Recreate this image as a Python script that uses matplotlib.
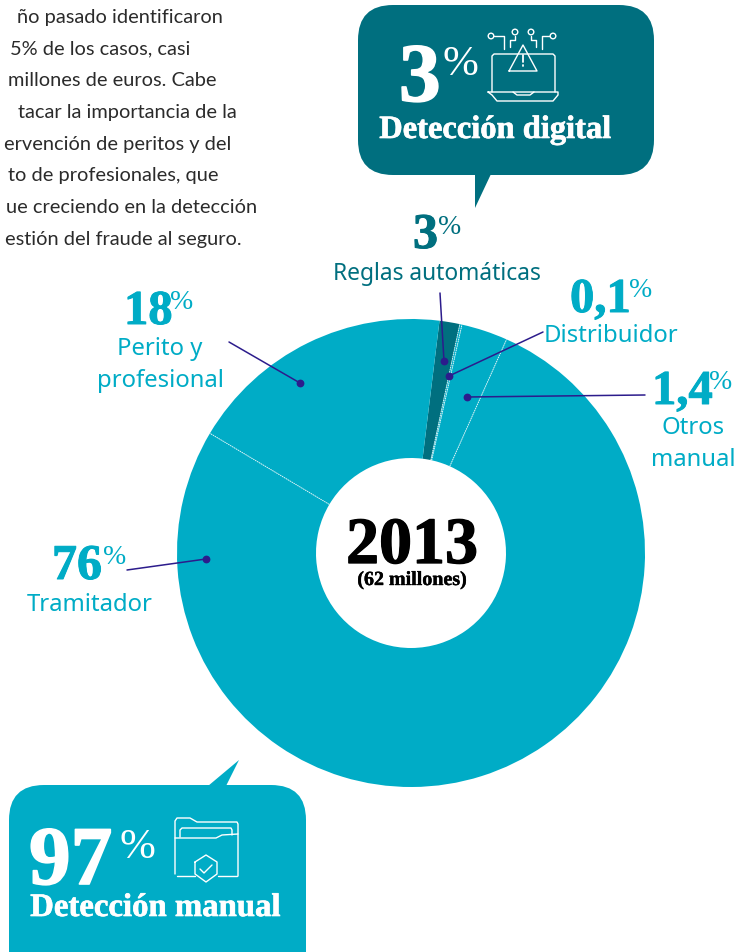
import matplotlib
matplotlib.use("Agg")
import matplotlib.pyplot as plt
import matplotlib.patheffects as pe
from matplotlib.patches import FancyBboxPatch, Polygon, Circle
import numpy as np

# wedge shares as drawn, clockwise from the dark slice
slice_names = ["Reglas automáticas", "Distribuidor", "Otros manual", "Tramitador", "Perito y profesional"]
slice_shares = [1.4, 0.15, 3.2, 76.85, 18.4]

body_lines = ["ño pasado identificaron", "5% de los casos, casi", "millones de euros. Cabe",
              "tacar la importancia de la", "ervención de peritos y del", "to de profesionales, que",
              "ue creciendo en la detección", "estión del fraude al seguro."]
body_ends = [223, 190, 216, 237, 231, 218, 257, 242]

TEAL = "#00ACC6"
DARK = "#006F7F"
NAVY = "#2C1C8C"
SERIF = "Liberation Serif"
SANS = "Noto Sans"

fig = plt.figure(figsize=(7.37, 9.53), dpi=100)
ax = fig.add_axes([0, 0, 1, 1])

# donut, y axis is flipped so counterclock comes out clockwise
cx, cy, r_out, r_in = 411, 554, 234, 95
wedges, _ = ax.pie(slice_shares, colors=[DARK, TEAL, TEAL, TEAL, TEAL], startangle=-83, counterclock=True,
                   radius=r_out, center=(cx, cy), frame=True, wedgeprops=dict(width=r_out - r_in, linewidth=0))
ax.set_xlim(0, 737)
ax.set_ylim(953, 0)
ax.set_aspect("equal")
ax.axis("off")

# dotted white separators between slices
angles = -83 + np.cumsum([0] + slice_shares) * 3.6
for a in angles[1:-1]:
    t = np.deg2rad(a)
    ax.plot([cx + r_in * np.cos(t), cx + r_out * np.cos(t)], [cy + r_in * np.sin(t), cy + r_out * np.sin(t)],
            color="white", lw=0.7, ls=(0, (1.5, 0.8)), alpha=0.8, zorder=3)


def heavy(x, y, s, size, color, ha="left"):
    t = ax.text(x, y, s, fontsize=size, color=color, family=SERIF, weight="bold", ha=ha, va="baseline", zorder=6)
    t.set_path_effects([pe.withStroke(linewidth=size * 0.02, foreground=color)])
    return t


def pct(x, y, size, color):
    ax.text(x, y, "%", fontsize=size, color=color, family=SERIF, ha="left", va="baseline", zorder=6)


def sans(x, y, s, color, size=17.2):
    ax.text(x, y, s, fontsize=size, color=color, family=SANS, ha="center", va="center", zorder=6)


def leader(x0, y0, x1, y1):
    ax.plot([x0, x1], [y0, y1], color=NAVY, lw=1.1, zorder=5, solid_capstyle="round")
    ax.plot([x1], [y1], "o", color=NAVY, ms=4.6, zorder=5)


# body text cut by the left edge
for i, line in enumerate(body_lines):
    ax.text(body_ends[i], 17 + i * 31.8, line, fontsize=14.4, color="#2b2b2b", family="Lato", ha="right", va="center")

# callouts
ax.add_patch(FancyBboxPatch((393, 41), 226, 100, boxstyle="round,pad=35,rounding_size=35", fc=DARK, ec="none"))
ax.add_patch(Polygon([(475, 175), (491, 175), (475, 209)], fc=DARK, ec="none"))
ax.add_patch(FancyBboxPatch((44, 821), 227, 200, boxstyle="round,pad=35,rounding_size=35", fc=TEAL, ec="none"))
ax.add_patch(Polygon([(208, 787), (226, 787), (239, 761)], fc=TEAL, ec="none"))

heavy(399, 102, "3", 60, "white")
pct(443, 75, 31, "white")
heavy(495.5, 139, "Detección digital", 23.4, "white", ha="center")

heavy(29, 885, "97", 60, "white")
pct(119, 858, 31, "white")
heavy(155.5, 917, "Detección manual", 23.6, "white", ha="center")


def stroke(xs, ys, lw=1.0):
    ax.plot(xs, ys, color="white", lw=lw, zorder=6, solid_capstyle="round", solid_joinstyle="round")


# laptop icon
stroke([492, 492, 494, 553, 555, 555], [93, 57, 55, 55, 57, 93])
stroke([488, 558, 558, 553, 497, 492, 488], [93, 93, 96, 102, 102, 96, 93])
stroke([513, 517, 530, 534], [93, 96, 96, 93])
stroke([509, 523, 537, 509], [72, 46, 72, 72])
stroke([523, 523], [56, 63], lw=1.3)
stroke([523, 523], [66, 67], lw=1.3)
stroke([494, 504, 504], [37, 37, 50])
stroke([510, 510, 515, 515], [48, 41, 41, 37])
stroke([536, 536, 531, 531], [48, 41, 41, 37])
stroke([542, 542, 550], [50, 37, 37])
for px, py in [(491, 37), (515, 33), (531, 33), (553, 37)]:
    ax.add_patch(Circle((px, py), 2.8, fc=DARK, ec="white", lw=1.0, zorder=7))

# folder icon
stroke([175, 175, 177, 190, 197, 237, 238, 238], [875, 822, 819, 819, 823, 823, 825, 877])
stroke([180, 180, 182, 231, 232, 232], [838, 831, 829, 829, 831, 836])
stroke([175, 216, 222, 238], [839, 839, 836, 835])
stroke([177, 195], [877, 877])
stroke([218, 237], [877, 877])
stroke([195, 206, 217, 217, 206, 195, 195], [863, 856, 863, 875, 883, 875, 863])
stroke([200, 204, 212], [870, 874, 866])

# donut labels
heavy(413, 249, "3", 36, DARK)
pct(438, 234, 20, DARK)
sans(437, 274, "Reglas automáticas", DARK, size=16.4)
heavy(570, 313, "0,1", 35, TEAL)
pct(629, 297, 20, TEAL)
sans(611, 336, "Distribuidor", TEAL)
heavy(652, 405, "1,4", 35, TEAL)
pct(709, 389, 20, TEAL)
sans(693, 428, "Otros", TEAL)
sans(693, 460, "manual", TEAL)
heavy(124, 325, "18", 35, TEAL)
pct(170, 309, 20, TEAL)
sans(160, 349, "Perito y", TEAL)
sans(160, 381, "profesional", TEAL)
heavy(52, 580, "76", 36, TEAL)
pct(103, 564, 20, TEAL)
sans(90, 605, "Tramitador", TEAL)

leader(440, 294, 444, 362)
leader(543, 333, 449, 377)
leader(645, 396, 467, 398)
leader(229, 343, 300, 384)
leader(127, 571, 206, 560)

# centre
heavy(412, 564, "2013", 47.5, "black", ha="center")
heavy(412, 586, "(62 millones)", 14.4, "black", ha="center")

fig.savefig("out.png", dpi=100)
